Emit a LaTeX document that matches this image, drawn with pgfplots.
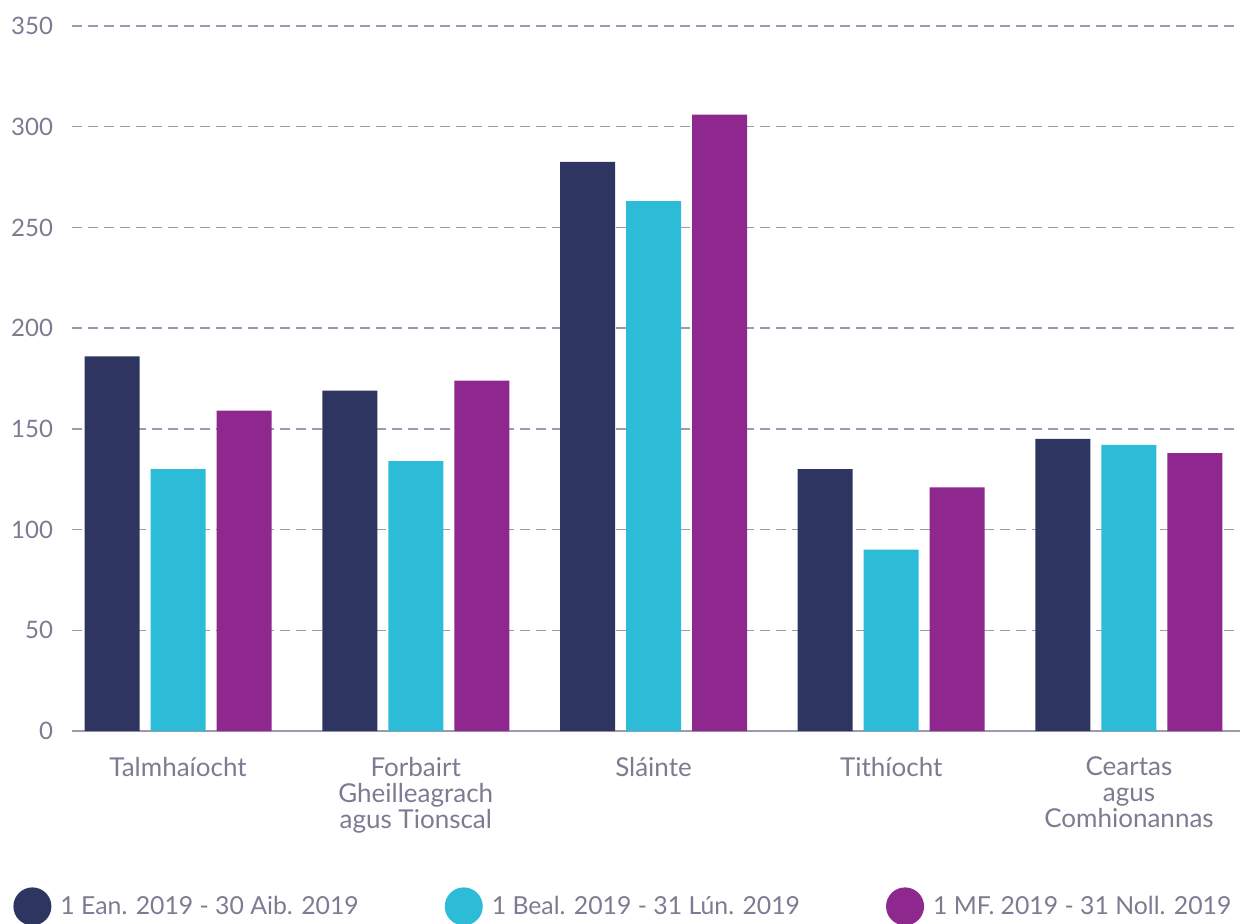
\documentclass[border=0pt]{standalone}
\usepackage{fontspec}
\setmainfont{Lato}
\usepackage{pgfplots}
\pgfplotsset{compat=1.18}
\definecolor{cdark}{HTML}{2E3560}
\definecolor{ccyan}{HTML}{2CBCD8}
\definecolor{cpurple}{HTML}{8E278E}
\definecolor{ctext}{HTML}{7D7B92}
\definecolor{cgrid}{HTML}{9C9AAE}
\begin{document}
\begin{tikzpicture}
\useasboundingbox (-36pt,-96pt) rectangle (586pt,365.5pt);
\begin{axis}[
  scale only axis, width=584pt, height=352.5pt,
  xmin=-0.446, xmax=4.467, ymin=0, ymax=350,
  ybar=5.5pt, bar width=27.5pt,
  axis lines*=left,
  x axis line style={draw=cgrid, line width=1pt},
  y axis line style={draw=none},
  ymajorgrids,
  grid style={draw=cgrid, line width=0.75pt, dash pattern=on 5pt off 3pt},
  ytick={0,50,...,350}, xtick={0,1,2,3,4},
  xticklabels={Talmhaíocht,{Forbairt\\Gheilleagrach\\agus Tionscal},Sláinte,Tithíocht,{Ceartas\\agus\\Comhionannas}},
  major tick length=0pt,
  /pgf/number format/assume math mode=true,
  tick label style={font=\fontsize{12}{13}\selectfont, text=ctext},
  yticklabel style={xshift=-6pt},
  xticklabel style={align=center, yshift=-9.5pt, font=\fontsize{13}{13}\selectfont},
  legend columns=3,
  legend style={draw=none, fill=none, at={(0,0)}, anchor=north west, xshift=-32.5pt, yshift=-76pt,
    font=\fontsize{12.4}{13}\selectfont, text=ctext,
    /tikz/every odd column/.append style={column sep=2.5pt},
    /tikz/every even column/.append style={column sep=41pt}},
]
\addplot[fill=cdark, draw=none, legend image code/.code={\fill[cdark] (0pt,0pt) circle (9.5pt);}]
  coordinates {(0,186) (1,169) (2,282.5) (3,130) (4,145)};
\addlegendentry{1 Ean. 2019 - 30 Aib. 2019}
\addplot[fill=ccyan, draw=none, legend image code/.code={\fill[ccyan] (0pt,0pt) circle (9.5pt);}]
  coordinates {(0,130) (1,134) (2,263) (3,90) (4,142)};
\addlegendentry{1 Beal. 2019 - 31 Lún. 2019}
\addplot[fill=cpurple, draw=none, legend image code/.code={\fill[cpurple] (0pt,0pt) circle (9.5pt);}]
  coordinates {(0,159) (1,174) (2,306) (3,121) (4,138)};
\addlegendentry{1 MF. 2019 - 31 Noll. 2019}
\end{axis}
\end{tikzpicture}
\end{document}
